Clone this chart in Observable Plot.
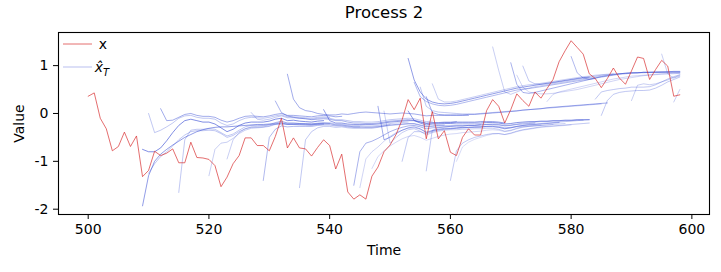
<!DOCTYPE html>
<html><head><meta charset="utf-8">
<script src="https://cdn.jsdelivr.net/npm/d3@7"></script>
<script src="https://cdn.jsdelivr.net/npm/@observablehq/plot@0.6"></script>
<style>
body{margin:0;background:#fff;}
#chart{width:721px;height:272px;}
</style></head><body><div id="chart"></div>
<script>
// ---- data ----
const xStart = 500;
const xValues = [0.36,0.43,-0.10,-0.32,-0.78,-0.69,-0.39,-0.69,-0.47,-1.32,
 -1.19,-0.79,-0.88,-0.83,-0.74,-1.03,-1.03,-0.60,-0.92,-0.93,
 -0.96,-1.09,-1.53,-1.33,-1.05,-0.88,-0.51,-0.51,-0.67,-0.67,
 -0.78,-0.48,-0.10,-0.72,-0.51,-0.72,-0.74,-0.89,-0.71,-0.55,
 -0.67,-1.16,-0.85,-1.64,-1.79,-1.70,-1.79,-1.31,-1.12,-0.80,
 -0.66,-0.44,-0.13,0.29,0.08,0.32,-0.53,0.04,-0.53,-0.36,
 -0.81,-0.88,-0.50,-0.32,-0.45,-0.45,0.06,0.29,0.15,-0.20,
 0.08,0.41,0.27,0.15,0.45,0.32,0.52,0.71,1.08,1.31,
 1.52,1.38,1.24,0.83,0.73,0.54,0.73,0.95,0.74,0.61,
 0.89,1.18,1.15,0.71,0.92,1.11,0.99,0.36,0.39];

const fcStart = [509,509,510,512,515,510,520,523,527,529,531,533,535,539,544,545,547,548,549,552,553,556,560,561,
 553,554,555,556,557,567,570,571,572,576,580,584,585,590,595,597];
const fcValues = [
 [-1.93,-1.30,-1.00,-0.85,-0.75,-0.66,-0.58,-0.50,-0.44,-0.38,-0.34,-0.31,-0.29,-0.28,-0.28,-0.27,-0.26,-0.25,-0.24,-0.23,-0.23,-0.22,-0.22,-0.22,-0.22,-0.22,-0.22,-0.22,-0.22,-0.22,-0.22],
 [-0.75,-0.80,-0.80,-0.72,-0.57,-0.40,-0.25,-0.15,-0.12,-0.15,-0.18,-0.18,-0.22,-0.30,-0.38,-0.33,-0.25,-0.20,-0.18,-0.18,-0.18,-0.16,-0.12,-0.10,-0.15,-0.14,-0.16,-0.17,-0.18,-0.16,-0.15],
 [0.00,-0.40,-0.35,-0.28,-0.20,-0.10,-0.05,-0.04,-0.08,-0.10,-0.10,-0.12,-0.20,-0.25,-0.22,-0.15,-0.10,-0.08,-0.09,-0.10,-0.08,-0.05,-0.03,-0.07,-0.07,-0.08,-0.09,-0.10,-0.08,-0.07,-0.08],
 [0.10,-0.15,-0.14,-0.08,-0.02,0.00,-0.04,-0.06,-0.06,-0.08,-0.14,-0.18,-0.15,-0.10,-0.06,-0.05,-0.06,-0.07,-0.05,-0.02,0.00,-0.04,-0.04,-0.05,-0.06,-0.07,-0.05,-0.04,-0.05,-0.07,-0.06],
 [-1.65,-0.55,-0.35,-0.33,-0.33,-0.32,-0.33,-0.40,-0.47,-0.43,-0.35,-0.28,-0.25,-0.25,-0.25,-0.23,-0.19,-0.16,-0.20,-0.20,-0.21,-0.22,-0.23,-0.21,-0.20,-0.21,-0.24,-0.24,-0.26,-0.28,-0.28],
 [-1.25,-1.05,-0.90,-0.80,-0.68,-0.55,-0.45,-0.38,-0.36,-0.36,-0.35,-0.36,-0.42,-0.50,-0.46,-0.38,-0.32,-0.29,-0.29,-0.28,-0.26,-0.22,-0.19,-0.23,-0.23,-0.24,-0.24,-0.25,-0.23,-0.22,-0.22],
 [-1.30,-0.75,-0.62,-0.60,-0.52,-0.42,-0.35,-0.31,-0.30,-0.29,-0.27,-0.23,-0.20,-0.23,-0.23,-0.23,-0.24,-0.24,-0.22,-0.21,-0.21,-0.24,-0.24,-0.26,-0.27,-0.27,-0.28,-0.28,-0.27,-0.25,-0.23],
 [-0.95,-0.55,-0.40,-0.32,-0.28,-0.27,-0.26,-0.24,-0.20,-0.17,-0.20,-0.20,-0.21,-0.21,-0.22,-0.20,-0.19,-0.19,-0.22,-0.22,-0.24,-0.25,-0.25,-0.26,-0.26,-0.25,-0.23,-0.21,-0.20,-0.19,-0.18],
 [0.02,-0.12,-0.14,-0.12,-0.08,-0.05,-0.09,-0.09,-0.10,-0.11,-0.12,-0.10,-0.09,-0.10,-0.13,-0.13,-0.15,-0.17,-0.17,-0.18,-0.18,-0.17,-0.15,-0.13,-0.12,-0.11,-0.10,-0.11,-0.14,-0.17,-0.16],
 [-1.40,-0.50,-0.33,-0.26,-0.28,-0.27,-0.27,-0.27,-0.27,-0.25,-0.24,-0.24,-0.26,-0.26,-0.28,-0.29,-0.29,-0.29,-0.29,-0.28,-0.26,-0.24,-0.23,-0.22,-0.21,-0.21,-0.24,-0.27,-0.26,-0.25,-0.24],
 [0.26,0.02,-0.05,-0.08,-0.10,-0.11,-0.13,-0.12,-0.11,-0.12,-0.15,-0.15,-0.18,-0.20,-0.20,-0.21,-0.21,-0.20,-0.18,-0.16,-0.15,-0.14,-0.13,-0.14,-0.17,-0.20,-0.19,-0.19,-0.18,-0.18,-0.17],
 [0.82,0.30,0.12,0.06,0.04,0.00,-0.02,-0.03,-0.03,-0.01,-0.02,0.00,0.02,0.03,0.02,0.01,0.00,-0.01,0.00,0.01,0.00,-0.01,-0.03,-0.05,-0.04,-0.04,-0.04,-0.04,-0.04,-0.04,-0.04],
 [-1.55,-0.55,-0.38,-0.30,-0.27,-0.27,-0.29,-0.28,-0.30,-0.31,-0.31,-0.31,-0.31,-0.29,-0.27,-0.25,-0.24,-0.23,-0.22,-0.22,-0.25,-0.28,-0.27,-0.26,-0.25,-0.25,-0.24,-0.24,-0.24,-0.24,-0.23],
 [0.08,-0.15,-0.20,-0.20,-0.22,-0.23,-0.23,-0.23,-0.23,-0.22,-0.20,-0.18,-0.17,-0.16,-0.15,-0.15,-0.18,-0.21,-0.20,-0.20,-0.19,-0.19,-0.18,-0.18,-0.18,-0.18,-0.17,-0.17,-0.17,-0.18,-0.20],
 [-1.50,-0.80,-0.62,-0.58,-0.52,-0.45,-0.38,-0.33,-0.29,-0.26,-0.25,-0.28,-0.32,-0.30,-0.29,-0.28,-0.27,-0.26,-0.26,-0.25,-0.25,-0.24,-0.23,-0.23,-0.24,-0.26,-0.25,-0.23,-0.22,-0.21,-0.20],
 [-1.55,-0.95,-0.80,-0.70,-0.58,-0.48,-0.40,-0.35,-0.31,-0.30,-0.33,-0.38,-0.36,-0.34,-0.33,-0.32,-0.31,-0.30,-0.30,-0.29,-0.29,-0.28,-0.28,-0.29,-0.31,-0.30,-0.28,-0.27,-0.26,-0.25,-0.24],
 [-1.15,-0.90,-0.78,-0.68,-0.60,-0.53,-0.48,-0.46,-0.50,-0.56,-0.52,-0.48,-0.45,-0.43,-0.42,-0.40,-0.39,-0.38,-0.37,-0.35,-0.34,-0.35,-0.38,-0.36,-0.32,-0.29,-0.27,-0.26,-0.25,-0.24,-0.23],
 [0.15,-0.55,-0.50,-0.42,-0.35,-0.30,-0.28,-0.32,-0.40,-0.36,-0.33,-0.31,-0.31,-0.30,-0.29,-0.29,-0.28,-0.28,-0.27,-0.27,-0.29,-0.32,-0.30,-0.27,-0.25,-0.24,-0.23,-0.22,-0.21,-0.20,-0.19],
 [0.05,-0.62,-0.50,-0.40,-0.34,-0.32,-0.37,-0.45,-0.40,-0.37,-0.35,-0.34,-0.34,-0.33,-0.33,-0.32,-0.32,-0.31,-0.31,-0.33,-0.37,-0.35,-0.31,-0.28,-0.27,-0.26,-0.25,-0.24,-0.23,-0.22,-0.21],
 [-1.00,-0.50,-0.38,-0.38,-0.42,-0.38,-0.35,-0.33,-0.32,-0.31,-0.30,-0.29,-0.29,-0.28,-0.27,-0.26,-0.27,-0.30,-0.29,-0.27,-0.25,-0.23,-0.22,-0.21,-0.20,-0.19,-0.18,-0.17,-0.16,-0.15,-0.14],
 [0.05,-0.15,-0.20,-0.24,-0.22,-0.22,-0.21,-0.21,-0.20,-0.20,-0.20,-0.20,-0.20,-0.19,-0.19,-0.20,-0.22,-0.21,-0.19,-0.18,-0.17,-0.17,-0.16,-0.16,-0.15,-0.15,-0.14,-0.14,-0.13,-0.13,-0.13],
 [-1.20,-0.35,-0.30,-0.28,-0.27,-0.26,-0.26,-0.25,-0.25,-0.24,-0.23,-0.22,-0.23,-0.25,-0.24,-0.22,-0.20,-0.19,-0.18,-0.17,-0.17,-0.16,-0.16,-0.15,-0.15,-0.14,-0.14,-0.13],
 [-1.40,-0.78,-0.62,-0.55,-0.50,-0.47,-0.44,-0.42,-0.42,-0.44,-0.41,-0.37,-0.34,-0.32,-0.30,-0.28,-0.27,-0.26,-0.25,-0.24,-0.23,-0.22,-0.21,-0.20],
 [-1.00,-0.70,-0.60,-0.54,-0.50,-0.46,-0.43,-0.42,-0.44,-0.42,-0.38,-0.35,-0.33,-0.31,-0.29,-0.28,-0.27,-0.26,-0.25,-0.24],
 [1.15,0.70,0.45,0.30,0.24,0.21,0.20,0.21,0.23,0.26,0.29,0.32,0.35,0.38,0.41,0.44,0.47,0.50,0.53,0.55,0.57,0.59,0.61,0.63,0.65,0.67,0.69,0.71,0.73,0.75,0.76],
 [0.65,0.35,0.25,0.20,0.17,0.16,0.17,0.19,0.22,0.25,0.28,0.31,0.34,0.37,0.40,0.43,0.46,0.49,0.51,0.52,0.54,0.56,0.58,0.60,0.62,0.64,0.66,0.68,0.70,0.71,0.73],
 [0.55,0.15,0.06,0.03,0.02,0.01,0.00,-0.01,-0.01,-0.01,0.00,0.01,0.02,0.03,0.04,0.05,0.06,0.07,0.08,0.09,0.10,0.11,0.12,0.13,0.14,0.15,0.16,0.17,0.18,0.19,0.20],
 [0.35,0.02,-0.02,-0.03,-0.03,-0.03,-0.03,-0.02,-0.02,-0.01,0.00,0.01,0.02,0.03,0.04,0.05,0.07,0.08,0.09,0.10,0.12,0.13,0.14,0.15,0.16,0.17,0.18,0.19,0.20,0.21,0.22],
 [0.62,0.30,0.24,0.24,0.26,0.29,0.32,0.35,0.38,0.41,0.44,0.47,0.50,0.53,0.56,0.58,0.60,0.61,0.63,0.65,0.67,0.69,0.71,0.73,0.75,0.77,0.78,0.80,0.81,0.82,0.83],
 [1.39,0.90,0.45,0.40,0.45,0.50,0.53,0.56,0.58,0.60,0.62,0.64,0.66,0.68,0.70,0.72,0.74,0.76,0.78,0.80,0.82,0.83,0.84,0.85,0.85,0.86,0.86,0.86,0.87,0.87,0.87,0.87],
 [1.06,0.61,0.44,0.42,0.44,0.47,0.50,0.53,0.56,0.59,0.62,0.65,0.68,0.71,0.74,0.77,0.79,0.81,0.83,0.84,0.85,0.85,0.86,0.86,0.86,0.86,0.86,0.86,0.86],
 [0.80,0.55,0.45,0.42,0.41,0.41,0.42,0.44,0.46,0.48,0.50,0.53,0.56,0.59,0.62,0.65,0.68,0.71,0.73,0.75,0.77,0.79,0.80,0.81,0.82,0.83,0.83,0.84],
 [0.99,0.68,0.62,0.61,0.62,0.64,0.66,0.68,0.70,0.72,0.74,0.76,0.78,0.80,0.81,0.82,0.83,0.84,0.85,0.85,0.85,0.86,0.86,0.86,0.87,0.87,0.87],
 [0.25,0.40,0.45,0.48,0.51,0.54,0.57,0.60,0.63,0.66,0.69,0.72,0.74,0.76,0.78,0.79,0.80,0.81,0.82,0.83,0.83,0.84,0.84],
 [1.19,0.85,0.74,0.72,0.74,0.76,0.78,0.80,0.82,0.83,0.84,0.85,0.86,0.86,0.87,0.87,0.87,0.88,0.88],
 [0.30,0.45,0.48,0.50,0.52,0.53,0.55,0.55,0.55,0.56,0.60,0.66,0.72,0.77,0.81],
 [-0.04,0.27,0.40,0.44,0.46,0.47,0.48,0.48,0.49,0.53,0.59,0.66,0.71,0.76],
 [0.27,0.59,0.62,0.60,0.62,0.66,0.70,0.75,0.80],
 [1.24,0.83,0.74,0.78],
 [0.24,0.50]
];
const xTicks = [500,520,540,560,580,600];
const yTicks = [-2,-1,0,1];

// ---- style (separate from data) ----
const fcOpacity = [0.7,0.8,0.4,0.6,0.4,0.4,0.35,0.35,0.4,0.5,0.55,0.6,0.4,0.7,0.55,0.3,0.28,0.6,0.35,0.4,0.75,0.4,0.4,0.25,
 0.7,0.5,0.4,0.6,0.35,0.35,0.55,0.3,0.4,0.3,0.5,0.4,0.4,0.35,0.35,0.35];
const blue = "#2f45d2", red = "#d62728";

const fcMarks = fcValues.map((vals, k) => Plot.line(vals, {
  x: (d, i) => fcStart[k] + i, y: d => d,
  stroke: blue, strokeOpacity: fcOpacity[k], strokeWidth: 0.75
}));

const plot = Plot.plot({
  width: 721, height: 272,
  marginTop: 32, marginBottom: 58, marginLeft: 58, marginRight: 12,
  style: {fontFamily: "DejaVu Sans", fontSize: "14px", background: "white", color: "black"},
  x: {domain: [495.08, 602.92]},
  y: {domain: [-2.111, 1.692]},
  marks: [
    ...fcMarks,
    Plot.line(xValues, {x: (d, i) => xStart + i, y: d => d, stroke: red, strokeOpacity: 0.75, strokeWidth: 0.9}),
    Plot.axisX({ticks: xTicks, tickSize: 5, tickPadding: 5, tickFormat: d => String(d),
      label: "Time", labelAnchor: "center", labelOffset: 40, labelArrow: "none"}),
    Plot.axisY({ticks: yTicks, tickSize: 5, tickPadding: 5, tickFormat: d => String(d),
      label: "Value", labelAnchor: "center", labelOffset: 44, labelArrow: "none"}),
    Plot.frame({stroke: "black", strokeWidth: 1.1}),
    Plot.text(["Process 2"], {frameAnchor: "top", dy: -15, fontSize: 16.5, lineAnchor: "bottom"})
  ]
});
document.getElementById("chart").appendChild(plot);

// legend (top-left inside axes)
const svg = d3.select(plot);
const lg = svg.append("g").attr("font-family", "DejaVu Sans").attr("font-size", 14);
lg.append("line").attr("x1", 63).attr("x2", 92).attr("y1", 44).attr("y2", 44)
  .attr("stroke", red).attr("stroke-opacity", 0.75).attr("stroke-width", 0.9);
lg.append("text").attr("x", 103).attr("y", 49).text("x");
lg.append("line").attr("x1", 63).attr("x2", 92).attr("y1", 67).attr("y2", 67)
  .attr("stroke", blue).attr("stroke-opacity", 0.45).attr("stroke-width", 0.75);
const t2 = lg.append("text").attr("x", 102).attr("y", 72).attr("font-style", "italic");
t2.append("tspan").text("x\u0302");
t2.append("tspan").attr("dy", 4).attr("font-size", 10).text("T");
</script></body></html>
